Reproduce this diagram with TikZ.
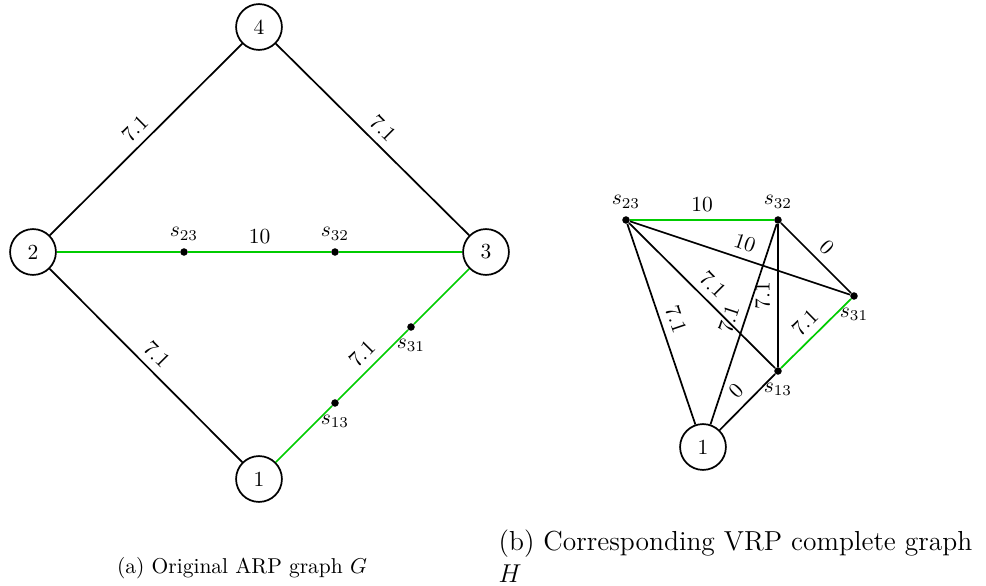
\documentclass[tikz,border=0pt]{standalone}
\usepackage{tikz}
\usetikzlibrary{positioning}
\definecolor{routegreen}{RGB}{0,204,0}

\begin{document}
\begin{tikzpicture}[x=0.01635cm, y=-0.01635cm]
    \tikzstyle{vertex} = [circle, draw=black, thick, minimum size=0.75cm, inner sep=0pt]
    \tikzstyle{split} = [circle, fill=black, minimum size=3.5pt, inner sep=0pt]
    \tikzstyle{edge} = [thick]
    \tikzstyle{route} = [thick, draw=routegreen]
    \tikzstyle{cost} = [midway, sloped, above]

    \useasboundingbox (0,0) rectangle (986,586);

    % (a) original ARP graph
    \node (a4) [vertex] at (259,27) {4};
    \node (a2) [vertex] at (33,252) {2};
    \node (a3) [vertex] at (486,252) {3};
    \node (a1) [vertex] at (259,479) {1};
    \node (as23) [split, label=above:$s_{23}$] at (184,252) {};
    \node (as32) [split, label=above:$s_{32}$] at (335,252) {};
    \node (as31) [split, label=below:$s_{31}$] at (411,327) {};
    \node (as13) [split, label=below:$s_{13}$] at (335,403) {};

    \draw [edge] (a2) -- node[cost] {7.1} (a4);
    \draw [edge] (a4) -- node[cost] {7.1} (a3);
    \draw [edge] (a2) -- node[cost] {7.1} (a1);
    \draw [route] (a2) -- (as23) -- node[above] {10} (as32) -- (a3);
    \draw [route] (a1) -- (as13) -- node[cost] {7.1} (as31) -- (a3);

    % (b) VRP complete graph
    \node (b1) [vertex] at (703,447) {1};
    \node (bs23) [split, label=above:$s_{23}$] at (626,220) {};
    \node (bs32) [split, label=above:$s_{32}$] at (778,220) {};
    \node (bs31) [split, label=below:$s_{31}$] at (854,296) {};
    \node (bs13) [split, label=below:$s_{13}$] at (778,371) {};

    \draw [route] (bs23) -- node[above] {10} (bs32);
    \draw [edge] (bs23) -- node[cost] {10} (bs31);
    \draw [edge] (bs32) -- node[cost] {0} (bs31);
    \draw [edge] (bs23) -- node[cost] {7.1} (b1);
    \draw [edge] (bs23) -- node[cost] {7.1} (bs13);
    \draw [edge] (b1) -- node[cost] {7.1} (bs32);
    \draw [edge] (bs13) -- node[midway, rotate=90, anchor=south] {7.1} (bs32);
    \draw [edge] (b1) -- node[cost] {0} (bs13);
    \draw [route] (bs13) -- node[cost] {7.1} (bs31);

    % captions
    \node (capa) at (242,568) {(a) Original ARP graph $G$};
    \node (capb) [anchor=base west, align=left, font=\fontsize{12.8}{14.5}\selectfont] at (491,582) {(b) Corresponding VRP complete graph\\$H$};
\end{tikzpicture}
\end{document}
